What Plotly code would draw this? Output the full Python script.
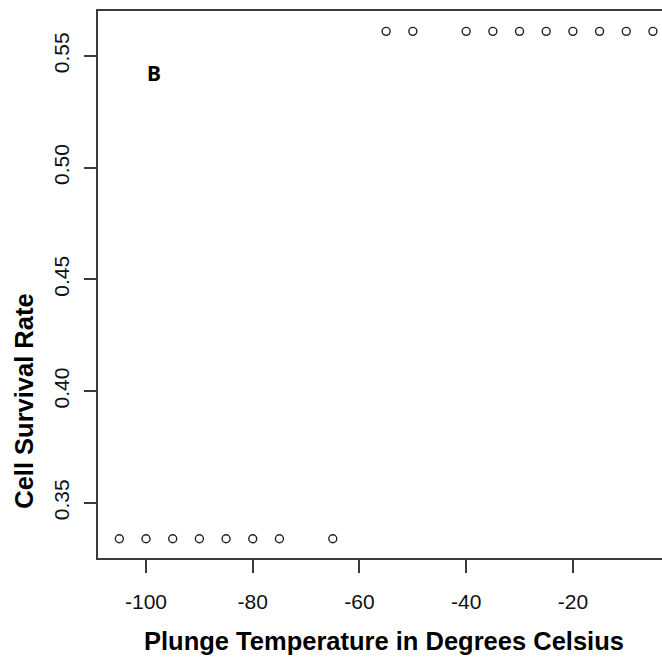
import plotly.graph_objects as go

temps_low = [-105, -100, -95, -90, -85, -80, -75, -65]
rate_low = [0.334, 0.334, 0.334, 0.334, 0.334, 0.334, 0.334, 0.334]
temps_high = [-55, -50, -40, -35, -30, -25, -20, -15, -10, -5]
rate_high = [0.561, 0.561, 0.561, 0.561, 0.561, 0.561, 0.561, 0.561, 0.561, 0.561]

x_ticks = [-100, -80, -60, -40, -20]
x_tick_labels = ["-100", "-80", "-60", "-40", "-20"]
y_ticks = [0.35, 0.40, 0.45, 0.50, 0.55]
y_tick_labels = ["0.35", "0.40", "0.45", "0.50", "0.55"]

x = temps_low + temps_high
y = rate_low + rate_high

W, H = 662, 661
L, T = 98, 11
B_ = 661 - 558.3
R_ = 0
pw = W - L - R_
ph = H - T - B_

axis_col = "#3a3a3a"
fig = go.Figure()
fig.add_trace(go.Scatter(
    x=x, y=y, mode="markers",
    marker=dict(symbol="circle-open", size=8, color="#222222",
                line=dict(width=1.4, color="#222222")),
    showlegend=False, hoverinfo="skip"))

tickfont = dict(family="Liberation Sans, Arial, sans-serif", size=21, color="#111111")

fig.update_layout(
    width=W, height=H,
    margin=dict(l=L, r=R_, t=T, b=B_),
    paper_bgcolor="white", plot_bgcolor="white",
    xaxis=dict(range=[-109, -3.3], tickvals=x_ticks, ticktext=x_tick_labels,
               showgrid=False, zeroline=False, showline=True, mirror=True,
               linecolor=axis_col, linewidth=1.5,
               ticks="outside", ticklen=13, tickwidth=1.5, tickcolor=axis_col,
               tickfont=tickfont, ticklabelstandoff=11),
    yaxis=dict(range=[0.3254, 0.5701], tickvals=y_ticks, ticktext=y_tick_labels,
               showgrid=False, zeroline=False, showline=True, mirror=False,
               linecolor=axis_col, linewidth=1.5,
               ticks="outside", ticklen=12, tickwidth=1.5, tickcolor=axis_col,
               tickfont=tickfont, tickangle=-90, ticklabelstandoff=7),
)

title_font = dict(family="Liberation Sans, Arial, sans-serif", size=25.5, color="#000000")
fig.add_annotation(text="<b>Plunge Temperature in Degrees Celsius</b>",
                   xref="paper", yref="paper",
                   x=(383.5 - L) / pw, y=(558.3 - 641) / ph,
                   xanchor="center", yanchor="middle", showarrow=False, font=title_font)
fig.add_annotation(text="<b>Cell Survival Rate</b>",
                   xref="paper", yref="paper",
                   x=(24 - L) / pw, y=(558.3 - 402) / ph,
                   xanchor="center", yanchor="middle", textangle=-90,
                   showarrow=False, font=title_font)
fig.add_annotation(text="<b>B</b>",
                   xref="paper", yref="paper",
                   x=(154 - L) / pw, y=(558.3 - 73) / ph,
                   xanchor="center", yanchor="middle", showarrow=False,
                   font=dict(family="Noto Sans, sans-serif", size=21, color="#000000"))

fig.write_html("out.html", config={"displayModeBar": False},
               post_script="document.body.style.margin='0';document.body.style.overflow='hidden';")
